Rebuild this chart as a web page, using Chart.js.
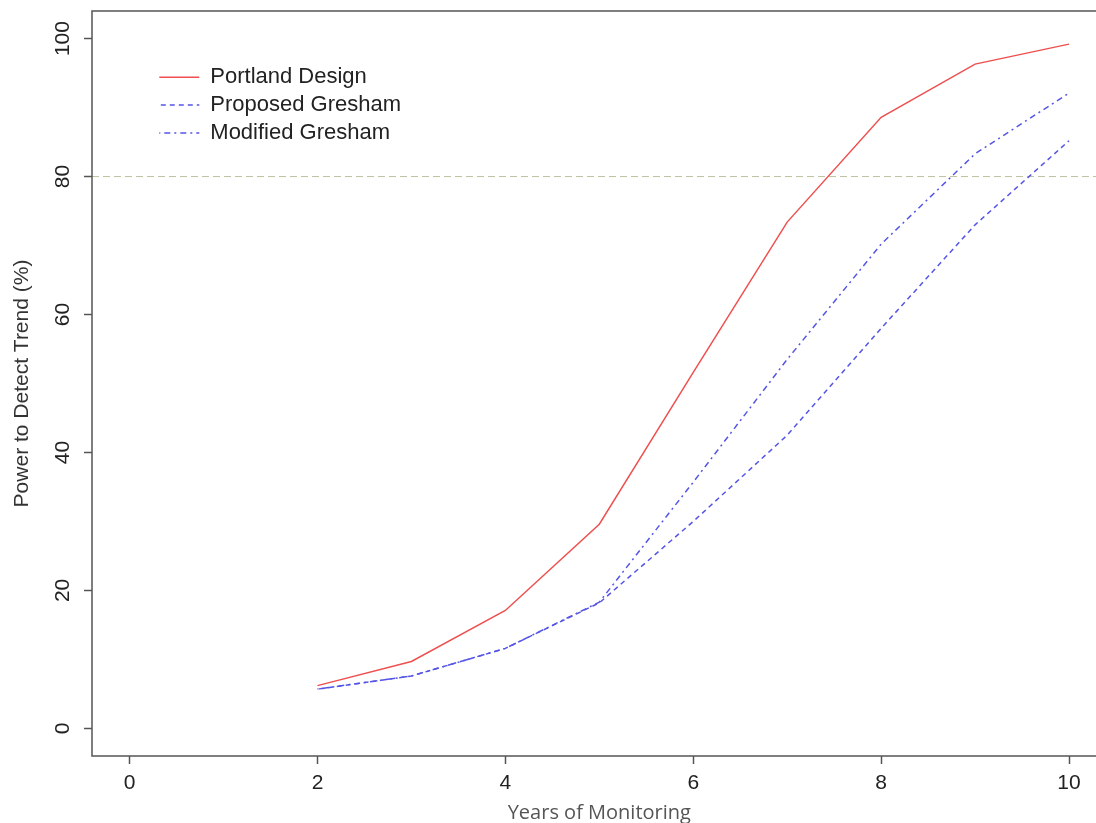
<!DOCTYPE html>
<html>
<head>
<meta charset="utf-8">
<title>Power to Detect Trend</title>
<script src="https://cdn.jsdelivr.net/npm/chart.js@4/dist/chart.umd.min.js"></script>
<style>
  html, body { margin: 0; padding: 0; background: #fff; overflow: hidden; }
  #wrap { width: 1120px; height: 823px; }
</style>
</head>
<body>
<div id="wrap"><canvas id="powerChart" width="1120" height="823"></canvas></div>
<script>
// years of monitoring and power (%)
const years = [2, 3, 4, 5, 6, 7, 8, 9, 10];
const portland = [6.2, 9.7, 17.1, 29.6, 51.6, 73.4, 88.6, 96.3, 99.2];
const proposed = [5.7, 7.6, 11.6, 18.2, 30.0, 42.5, 58.0, 73.0, 85.2];
const modified = [5.7, 7.6, 11.6, 18.3, 35.7, 53.5, 70.2, 83.3, 92.1];
const targetPower = 80;

const xTicks = [0, 2, 4, 6, 8, 10];
const yTicks = [0, 20, 40, 60, 80, 100];
const xMin = -0.4, xMax = 10.4;   // R pads the range by 4%
const yMin = -4, yMax = 104;

const pts = (vals) => years.map((x, i) => ({ x: x, y: vals[i] }));

// R style box around the plot region
const boxPlugin = {
  id: "box",
  afterDraw(chart) {
    const a = chart.chartArea, c = chart.ctx;
    c.save();
    c.strokeStyle = "#555";
    c.lineWidth = 1.5;
    c.strokeRect(a.left, a.top, a.right - a.left, a.bottom - a.top);
    c.restore();
  }
};

// put the legend where legend("topleft", inset) would
const legendSpot = {
  id: "legendSpot",
  afterLayout(chart) {
    const lg = chart.legend, a = chart.chartArea;
    const w = lg.width, h = lg.height;
    lg.left = a.left + 61.5;
    lg.top = a.top + 49.5;
    lg.right = lg.left + w;
    lg.bottom = lg.top + h;
  }
};

const tickFont = { family: "'Liberation Sans', Arial, sans-serif", size: 21 };

document.addEventListener("DOMContentLoaded", function () {
  const ctx = document.getElementById("powerChart");

  new Chart(ctx, {
    type: "line",
    data: {
      datasets: [
        {
          label: "Portland Design",
          data: pts(portland),
          borderColor: "#ee5050",
          backgroundColor: "transparent",
          borderWidth: 1.5,
          pointRadius: 0,
          tension: 0
        },
        {
          label: "Proposed Gresham",
          data: pts(proposed),
          borderColor: "#5555e6",
          backgroundColor: "transparent",
          borderWidth: 1.5,
          borderDash: [5, 4],
          borderDashOffset: 7.5,   // keeps the legend sample dashed
          pointRadius: 0,
          tension: 0
        },
        {
          label: "Modified Gresham",
          data: pts(modified),
          borderColor: "#5555e6",
          backgroundColor: "transparent",
          borderWidth: 1.5,
          borderDash: [2, 4, 6, 4],
          borderDashOffset: 1,
          pointRadius: 0,
          tension: 0
        },
        {
          label: "target",
          data: [{ x: xMin, y: targetPower }, { x: xMax, y: targetPower }],
          borderColor: "#bcc3a0",
          backgroundColor: "transparent",
          borderWidth: 1,
          borderDash: [7, 4],
          pointRadius: 0
        }
      ]
    },
    options: {
      responsive: false,
      animation: false,
      layout: { padding: { top: 11, right: 13.4, bottom: 0, left: 0 } },
      plugins: {
        tooltip: { enabled: false },
        legend: {
          position: "chartArea",
          align: "start",
          labels: {
            filter: (item) => item.datasetIndex < 3,
            boxWidth: 40,
            boxHeight: 0,
            padding: 5.8,
            color: "#222",
            font: { family: "'Liberation Sans', Arial, sans-serif", size: 22 }
          }
        }
      },
      scales: {
        x: {
          type: "linear",
          min: xMin,
          max: xMax,
          afterBuildTicks: (scale) => { scale.ticks = xTicks.map(v => ({ value: v })); },
          afterFit: (scale) => {
            scale.height = 67;
            scale.paddingLeft = 0;
            scale.paddingRight = 0;
          },
          ticks: {
            color: "#222",
            font: tickFont,
            padding: 7,
            maxRotation: 0,
            autoSkip: false,
            callback: (v) => String(v)
          },
          grid: {
            drawOnChartArea: false,
            drawTicks: true,
            tickLength: 8,
            tickColor: "#555",
            tickWidth: 1.5
          },
          border: { display: false },
          title: {
            display: true,
            text: "Years of Monitoring",
            color: "#555",
            font: { family: "'Open Sans', sans-serif", size: 20, lineHeight: 1 },
            padding: { top: 0, bottom: 0 }
          }
        },
        y: {
          type: "linear",
          min: yMin,
          max: yMax,
          afterBuildTicks: (scale) => { scale.ticks = yTicks.map(v => ({ value: v })); },
          afterFit: (scale) => {
            scale.width = 92;
            scale.paddingTop = 0;
            scale.paddingBottom = 0;
          },
          ticks: {
            color: "#222",
            font: tickFont,
            minRotation: 90,
            maxRotation: 90,
            crossAlign: "center",
            padding: 3.5,
            autoSkip: false,
            callback: (v) => String(v)
          },
          grid: {
            drawOnChartArea: false,
            drawTicks: true,
            tickLength: 8,
            tickColor: "#555",
            tickWidth: 1.5
          },
          border: { display: false },
          title: {
            display: true,
            text: "Power to Detect Trend (%)",
            color: "#333",
            font: { family: "'Liberation Sans', Arial, sans-serif", size: 21, lineHeight: 1 },
            padding: { top: 12, bottom: 0 }
          }
        }
      }
    },
    plugins: [boxPlugin, legendSpot]
  });
});
</script>
</body>
</html>
